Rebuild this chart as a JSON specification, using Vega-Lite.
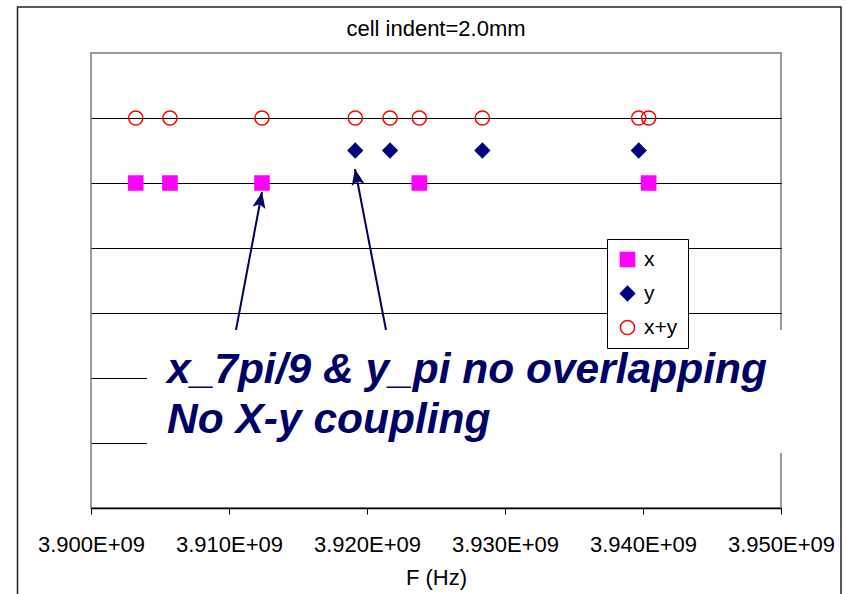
{
  "$schema": "https://vega.github.io/schema/vega-lite/v6.json",
  "width": 690,
  "height": 455,
  "autosize": {"type": "none"},
  "padding": {"left": 91, "top": 53, "right": 65, "bottom": 86},
  "background": "white",
  "config": {
    "view": {"stroke": "#9a9a9a", "strokeWidth": 2},
    "font": "Liberation Sans"
  },
  "title": {
    "text": "cell indent=2.0mm",
    "font": "Liberation Sans",
    "fontSize": 22,
    "fontWeight": "normal",
    "color": "#000",
    "baseline": "alphabetic",
    "offset": -52
  },
  "datasets": {
    "pts": [
      {"F": 3903240000, "level": 5, "series": "x"},
      {"F": 3905720000, "level": 5, "series": "x"},
      {"F": 3912390000, "level": 5, "series": "x"},
      {"F": 3923790000, "level": 5, "series": "x"},
      {"F": 3940410000, "level": 5, "series": "x"},
      {"F": 3919150000, "level": 5.5, "series": "y"},
      {"F": 3921670000, "level": 5.5, "series": "y"},
      {"F": 3928360000, "level": 5.5, "series": "y"},
      {"F": 3939690000, "level": 5.5, "series": "y"},
      {"F": 3903240000, "level": 6, "series": "x+y"},
      {"F": 3905720000, "level": 6, "series": "x+y"},
      {"F": 3912390000, "level": 6, "series": "x+y"},
      {"F": 3919150000, "level": 6, "series": "x+y"},
      {"F": 3921670000, "level": 6, "series": "x+y"},
      {"F": 3923790000, "level": 6, "series": "x+y"},
      {"F": 3928360000, "level": 6, "series": "x+y"},
      {"F": 3939690000, "level": 6, "series": "x+y"},
      {"F": 3940410000, "level": 6, "series": "x+y"}
    ],
    "arrows": [
      {"F": 3910507000, "level": 2.738, "F2": 3912391000, "level2": 4.862, "angle": 10.75},
      {"F": 3921377000, "level": 2.738, "F2": 3919130000, "level2": 5.215, "angle": 349}
    ],
    "box": [
      {"F": 3904060000, "level": 0.846, "F2": 3951380000, "level2": 2.738}
    ],
    "frame": [
      {"F": 3894674000, "level": -1.5, "F2": 3954348000, "level2": 7.708}
    ],
    "note": [
      {"F": 3905507000, "level": 1.923, "line": "x_7pi/9 & y_pi no overlapping"},
      {"F": 3905507000, "level": 1.154, "line": "No X-y coupling"}
    ]
  },
  "layer": [
    {
      "data": {"name": "frame"},
      "mark": {"type": "rect", "fill": null, "stroke": "#222", "strokeWidth": 1.5},
      "encoding": {
        "x": {"field": "F", "type": "quantitative", "scale": {"domain": [3900000000, 3950000000], "nice": false, "zero": false},
          "axis": {
            "values": [3900000000, 3910000000, 3920000000, 3930000000, 3940000000, 3950000000],
            "labelExpr": "format(datum.value/1e9, '.3f') + 'E+09'",
            "grid": false,
            "domainColor": "#000",
            "domainWidth": 1.5,
            "tickColor": "#000",
            "tickSize": 6,
            "labelFont": "Liberation Sans",
            "labelFontSize": 22,
            "labelColor": "#000",
            "labelPadding": 20,
            "labelFlush": false,
            "labelOverlap": false,
            "title": "F (Hz)",
            "titleFont": "Liberation Sans",
            "titleFontSize": 22,
            "titleFontWeight": "normal",
            "titleColor": "#000",
            "titlePadding": 12
          }},
        "x2": {"field": "F2"},
        "y": {"field": "level", "type": "quantitative", "scale": {"domain": [0, 7], "nice": false},
          "axis": {
            "values": [1, 2, 3, 4, 5, 6],
            "grid": true,
            "gridColor": "#000",
            "gridWidth": 1,
            "labels": false,
            "ticks": false,
            "domain": false,
            "title": null
          }},
        "y2": {"field": "level2"}
      }
    },
    {
      "data": {"name": "pts"},
      "mark": {"type": "point", "filled": true, "size": 200, "strokeWidth": 1.5, "opacity": 1},
      "encoding": {
        "x": {"field": "F", "type": "quantitative"},
        "y": {"field": "level", "type": "quantitative"},
        "shape": {"field": "series", "type": "nominal",
          "scale": {"domain": ["x", "y", "x+y"], "range": ["square", "diamond", "circle"]}},
        "fill": {"field": "series", "type": "nominal",
          "scale": {"domain": ["x", "y", "x+y"], "range": ["#FF00FF", "#000080", "transparent"]}},
        "stroke": {"field": "series", "type": "nominal",
          "scale": {"domain": ["x", "y", "x+y"], "range": ["#FF00FF", "#000080", "#FF0000"]},
          "legend": {
            "title": null,
            "orient": "none",
            "legendX": 516,
            "legendY": 186,
            "strokeColor": "#000",
            "fillColor": "#fff",
            "padding": 10,
            "labelFont": "Liberation Sans",
            "labelFontSize": 21,
            "labelColor": "#000",
            "labelOffset": 6,
            "rowPadding": 12,
            "symbolSize": 200,
            "symbolStrokeWidth": 1.5
          }}
      }
    },
    {
      "data": {"name": "arrows"},
      "mark": {"type": "rule", "color": "#000066", "strokeWidth": 2},
      "encoding": {
        "x": {"field": "F", "type": "quantitative"},
        "y": {"field": "level", "type": "quantitative"},
        "x2": {"field": "F2"},
        "y2": {"field": "level2"}
      }
    },
    {
      "data": {"name": "arrows"},
      "mark": {"type": "point", "shape": "M0,0L0.65,1.6L0,1.25L-0.65,1.6Z", "filled": true, "color": "#000066", "size": 400, "opacity": 1},
      "encoding": {
        "x": {"field": "F2", "type": "quantitative"},
        "y": {"field": "level2", "type": "quantitative"},
        "angle": {"field": "angle", "type": "quantitative", "scale": null}
      }
    },
    {
      "data": {"name": "box"},
      "mark": {"type": "rect", "fill": "#fff", "stroke": null},
      "encoding": {
        "x": {"field": "F", "type": "quantitative"},
        "x2": {"field": "F2"},
        "y": {"field": "level", "type": "quantitative"},
        "y2": {"field": "level2"}
      }
    },
    {
      "data": {"name": "note"},
      "mark": {"type": "text", "align": "left", "baseline": "alphabetic", "font": "Liberation Sans", "fontSize": 42.5, "fontWeight": "bold", "fontStyle": "italic", "color": "#000066"},
      "encoding": {
        "x": {"field": "F", "type": "quantitative"},
        "y": {"field": "level", "type": "quantitative"},
        "text": {"field": "line"}
      }
    }
  ]
}
